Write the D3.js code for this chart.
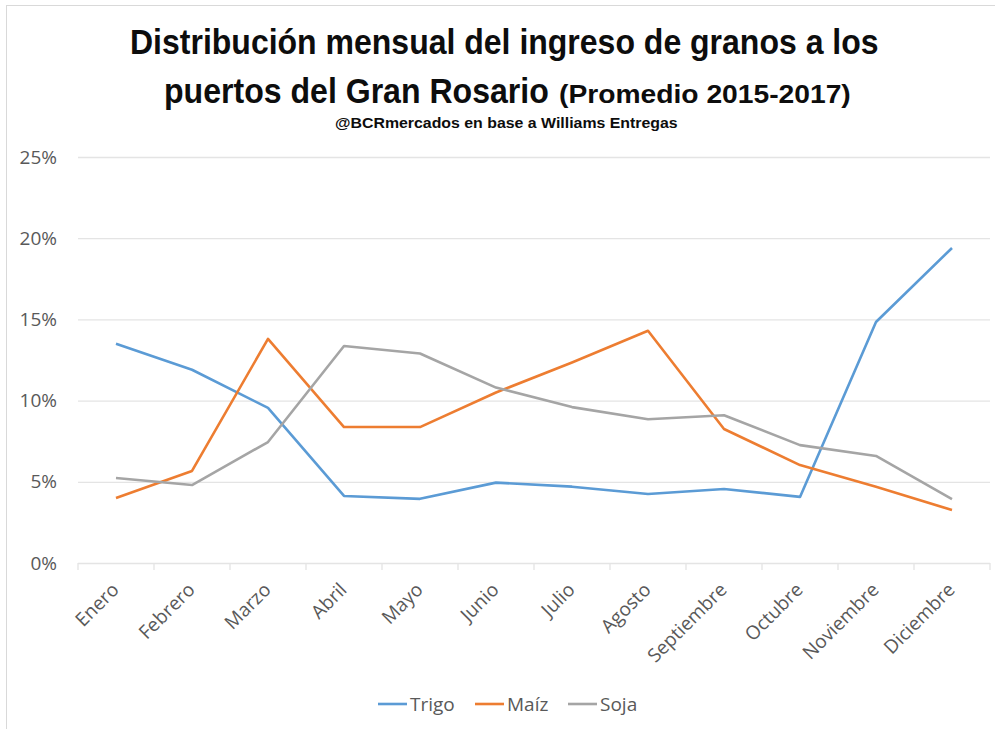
<!DOCTYPE html>
<html>
<head>
<meta charset="utf-8">
<script src="https://cdn.jsdelivr.net/npm/d3@7"></script>
<style>
  body { margin: 0; background: #fff; }
  svg { display: block; }
</style>
</head>
<body>
<div id="chart"></div>
<script>
// months on the x axis
const months = ['Enero', 'Febrero', 'Marzo', 'Abril', 'Mayo', 'Junio', 'Julio',
  'Agosto', 'Septiembre', 'Octubre', 'Noviembre', 'Diciembre'];

// share of yearly grain arrivals, in %
const trigo = [13.5, 11.9, 9.55, 4.13, 3.95, 4.95, 4.7, 4.25, 4.56, 4.07, 14.84, 19.4];
const maiz  = [4.0, 5.67, 13.8, 8.37, 8.37, 10.5, 12.35, 14.3, 8.25, 6.03, 4.7, 3.26];
const soja  = [5.23, 4.8, 7.45, 13.36, 12.9, 10.8, 9.6, 8.85, 9.1, 7.26, 6.59, 3.94];

const yTicks = [0, 5, 10, 15, 20, 25];

const series = [
  { name: 'Trigo', values: trigo, color: '#5B9BD5' },
  { name: 'Maíz', values: maiz, color: '#ED7D31' },
  { name: 'Soja', values: soja, color: '#A5A5A5' }
];

const width = 995, height = 729;
const plotLeft = 78, plotRight = 990, plotTop = 157, plotBottom = 563;

const svg = d3.select('#chart').append('svg')
  .attr('width', width).attr('height', height);

// chart frame
svg.append('rect')
  .attr('x', 6.5).attr('y', 5.5)
  .attr('width', 1000).attr('height', 740)
  .attr('fill', '#fff').attr('stroke', '#D9D9D9');

const x = d3.scaleBand().domain(months).range([plotLeft, plotRight]);
const y = d3.scaleLinear().domain([0, 25]).range([plotBottom, plotTop]);

// title: condensed bold, squeezed horizontally to the reference widths
const titleFont = "'Liberation Sans Narrow', 'Arial Narrow', sans-serif";
function titleText(str, tx, ty, size, w) {
  const t = svg.append('text')
    .attr('font-family', titleFont).attr('font-weight', 'bold')
    .attr('font-size', size).attr('fill', '#0D0D0D')
    .text(str);
  const k = w / t.node().getComputedTextLength();
  t.attr('transform', `translate(${tx},${ty}) scale(${k},1)`);
}
titleText('Distribución mensual del ingreso de granos a los', 130, 54, 36, 749);
titleText('puertos del Gran Rosario', 164, 103, 36, 385);
titleText('(Promedio 2015-2017)', 559, 103, 26, 292);
titleText('@BCRmercados en base a Williams Entregas', 335, 128, 15, 343);

const labelFont = "'Open Sans', sans-serif";

// y axis with gridlines
const yAxis = svg.append('g')
  .attr('transform', `translate(${plotLeft},0)`)
  .call(d3.axisLeft(y).tickValues(yTicks).tickSize(-(plotRight - plotLeft))
    .tickPadding(21).tickFormat(d => d + '%'));
yAxis.select('.domain').remove();
yAxis.selectAll('line').attr('stroke', '#E4E4E4').attr('stroke-width', 1.3);
yAxis.selectAll('text')
  .attr('font-family', labelFont).attr('font-size', 19).attr('fill', '#595959');

// x axis: tick marks on the band edges, rotated month labels
const edges = months.map(m => x(m)).concat([plotRight]);
svg.append('g').selectAll('line')
  .data(edges)
  .enter().append('line')
  .attr('x1', d => d).attr('x2', d => d)
  .attr('y1', plotBottom).attr('y2', plotBottom + 7)
  .attr('stroke', '#E4E4E4').attr('stroke-width', 1.3);

svg.append('g').selectAll('text')
  .data(months)
  .enter().append('text')
  .attr('transform', d => `translate(${x(d) + x.bandwidth() / 2 + 4},${plotBottom + 28}) rotate(-45)`)
  .attr('text-anchor', 'end')
  .attr('font-family', labelFont).attr('font-size', 19).attr('fill', '#595959')
  .text(d => d);

// lines
const line = d3.line()
  .x((d, i) => x(months[i]) + x.bandwidth() / 2)
  .y(d => y(d));

svg.append('g').selectAll('path')
  .data(series)
  .enter().append('path')
  .attr('fill', 'none')
  .attr('stroke', d => d.color)
  .attr('stroke-width', 2.6)
  .attr('stroke-linejoin', 'round')
  .attr('d', d => line(d.values));

// legend
const legendX = [378, 475, 568];
const legend = svg.append('g').selectAll('g')
  .data(series)
  .enter().append('g')
  .attr('transform', (d, i) => `translate(${legendX[i]},704)`);
legend.append('line')
  .attr('x1', 0).attr('x2', 29)
  .attr('stroke', d => d.color).attr('stroke-width', 2.6);
legend.append('text')
  .attr('x', 32).attr('dy', '0.35em')
  .attr('font-family', labelFont).attr('font-size', 19).attr('fill', '#595959')
  .text(d => d.name);
</script>
</body>
</html>
